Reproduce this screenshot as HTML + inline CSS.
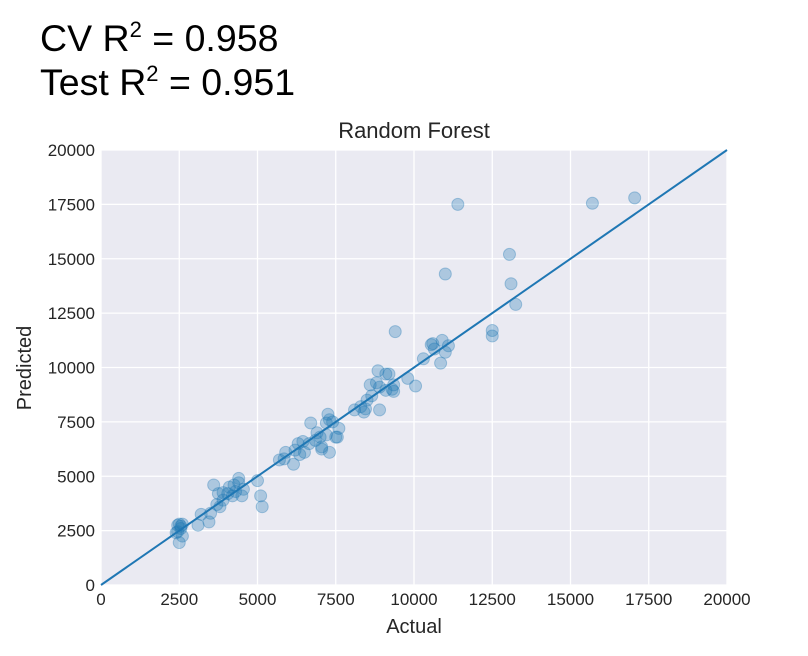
<!DOCTYPE html>
<html><head><meta charset="utf-8"><style>
body{margin:0;background:#fff;}
svg{display:block;font-family:"Liberation Sans",Arial,sans-serif;}
</style></head><body>
<svg id="chart" width="808" height="656" viewBox="0 0 808 656" xmlns="http://www.w3.org/2000/svg">
<text x="40" y="51" font-size="37.5" fill="#000">CV R<tspan dy="-14" font-size="22">2</tspan><tspan dy="14"> = 0.958</tspan></text>
<text x="40" y="95" font-size="37.5" fill="#000">Test R<tspan dy="-14" font-size="22">2</tspan><tspan dy="14"> = 0.951</tspan></text>
<rect x="101" y="150" width="626" height="435" fill="#eaeaf2"/>
<g id="grid"></g>
<g id="ticks"></g>
<g id="points"></g>
<line id="ideal" stroke="#1f77b4" stroke-width="2"/>
<text x="414" y="138" font-size="22" text-anchor="middle" fill="#262626">Random Forest</text>
<text x="414" y="633" font-size="20" text-anchor="middle" fill="#262626">Actual</text>
<text x="0" y="0" font-size="20" text-anchor="middle" fill="#262626" transform="translate(31,368) rotate(-90)">Predicted</text>
</svg>
<script>
const xTicks=[0,2500,5000,7500,10000,12500,15000,17500,20000];
const yTicks=[0,2500,5000,7500,10000,12500,15000,17500,20000];
const actual=[2450,2500,2550,2600,2450,2500,2600,2400,2550,3100,3200,3450,3500,3600,3700,3750,3800,3900,3900,4050,4100,4200,4250,4300,4400,4400,4500,4550,5000,5100,5150,5700,5850,5900,6150,6200,6300,6350,6450,6500,6650,6700,6850,6900,7000,7050,7050,7200,7250,7200,7300,7300,7400,7500,7550,7600,8100,8300,8400,8450,8500,8600,8650,8800,8850,8900,8900,9100,9100,9200,9300,9350,9350,9400,9800,10050,10300,10550,10600,10650,10850,10900,11000,11000,11100,11400,12500,12500,13050,13100,13250,15700,17050];
const predicted=[2750,2800,2700,2800,2450,1950,2250,2400,2600,2750,3250,2900,3300,4600,3700,4200,3600,4250,3900,4200,4500,4100,4600,4300,4900,4700,4100,4400,4800,4100,3600,5750,5800,6100,5550,6200,6500,6000,6600,6100,6500,7450,6650,7000,6800,6350,6250,6900,7850,7450,7600,6100,7500,6800,6800,7200,8050,8200,7950,8100,8500,9200,8700,9300,9850,8050,9100,8950,9700,9700,9000,8900,9200,11650,9500,9150,10400,11050,11100,10850,10200,11250,10700,14300,11000,17500,11700,11450,15200,13850,12900,17550,17800];
const NS="http://www.w3.org/2000/svg";
const X0=101,X1=727,Y0=585,Y1=150,MAX=20000;
function sx(v){return X0+(v/MAX)*(X1-X0);}
function sy(v){return Y0-(v/MAX)*(Y0-Y1);}
const grid=document.getElementById('grid'),ticks=document.getElementById('ticks'),pts=document.getElementById('points');
xTicks.forEach(t=>{
  const l=document.createElementNS(NS,'line');
  
  
  l.setAttribute('x1',sx(t));l.setAttribute('x2',sx(t));l.setAttribute('y1',Y1);l.setAttribute('y2',Y0);
  l.setAttribute('stroke','#fff');l.setAttribute('stroke-width','1.3');grid.appendChild(l);
  const tx=document.createElementNS(NS,'text');
  
  
  tx.setAttribute('x',sx(t));tx.setAttribute('y',Y0+20);tx.setAttribute('font-size','17');
  tx.setAttribute('text-anchor','middle');tx.setAttribute('fill','#262626');tx.textContent=t;ticks.appendChild(tx);
});
yTicks.forEach(t=>{
  const l=document.createElementNS(NS,'line');
  
  
  l.setAttribute('x1',X0);l.setAttribute('x2',X1);l.setAttribute('y1',sy(t));l.setAttribute('y2',sy(t));
  l.setAttribute('stroke','#fff');l.setAttribute('stroke-width','1.3');grid.appendChild(l);
  const tx=document.createElementNS(NS,'text');
  
  
  tx.setAttribute('x',X0-6);tx.setAttribute('y',sy(t)+6);tx.setAttribute('font-size','17');
  tx.setAttribute('text-anchor','end');tx.setAttribute('fill','#262626');tx.textContent=t;ticks.appendChild(tx);
});
actual.forEach((a,i)=>{
  const c=document.createElementNS(NS,'circle');
  
  
  c.setAttribute('cx',sx(a));c.setAttribute('cy',sy(predicted[i]));c.setAttribute('r','6');
  c.setAttribute('fill','rgba(31,119,180,0.3)');c.setAttribute('stroke','rgba(31,119,180,0.35)');c.setAttribute('stroke-width','1');
  pts.appendChild(c);
});
const ln=document.getElementById('ideal');
ln.setAttribute('x1',sx(0));ln.setAttribute('y1',sy(0));ln.setAttribute('x2',sx(MAX));ln.setAttribute('y2',sy(MAX));
</script>
</body></html>
